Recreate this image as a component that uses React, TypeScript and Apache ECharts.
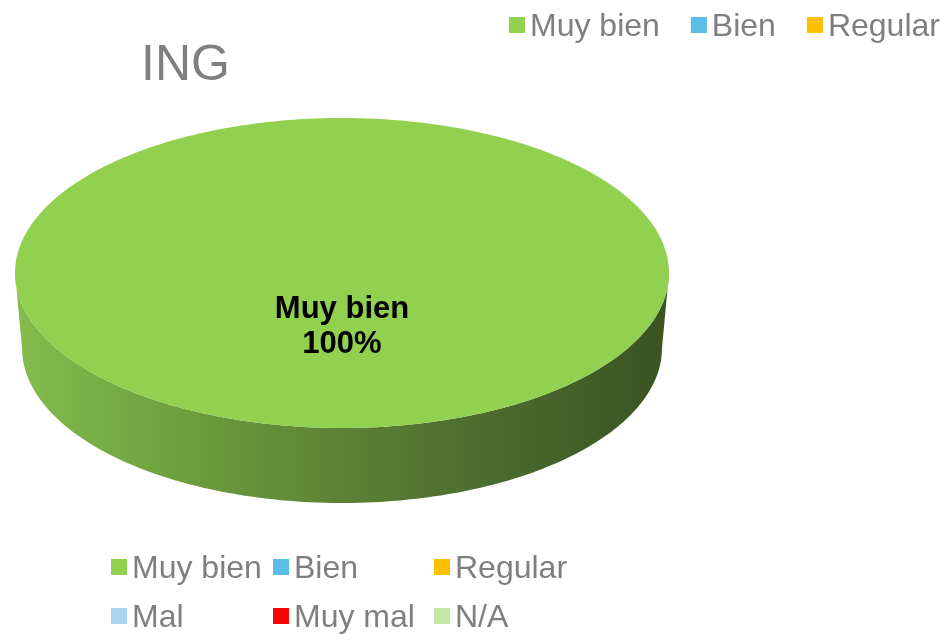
import React, { useEffect, useRef } from 'react';
import * as echarts from 'echarts';

const titleText = 'ING';
const categories = ['Muy bien', 'Bien', 'Regular', 'Mal', 'Muy mal', 'N/A'];
const values = [100, 0, 0, 0, 0, 0];
const colors = ['#92D050', '#5BBDE4', '#FFC000', '#A9D5F0', '#FF0000', '#C3E8A8'];
const topLegendItems = ['Muy bien', 'Bien', 'Regular'];
const bottomLegendRows = [
  ['Muy bien', 'Bien', 'Regular'],
  ['Mal', 'Muy mal', 'N/A'],
];

const FONT = '"Liberation Sans", Arial, sans-serif';
const total = values.reduce((a, b) => a + b, 0);
const cumBefore = values.map((_, i) => values.slice(0, i).reduce((a, b) => a + b, 0));

// layout of the 3D ellipse
const CX = 342;
const CY = 273;
const RX = 327;
const RY = 155;
const DEPTH = 75;
const BRX = 320;
const BRY = 155;

function ellPts(cx: number, cy: number, rx: number, ry: number, a: number, b: number, n: number) {
  const pts: number[][] = [];
  for (let k = 0; k <= n; k++) {
    const t = a + ((b - a) * k) / n;
    pts.push([cx + rx * Math.cos(t), cy + ry * Math.sin(t)]);
  }
  return pts;
}

function makeRender(i: number) {
  return (params: any, api: any) => {
    const v = api.value(0) as number;
    if (!v || !total) return { type: 'group', children: [] };
    const start = -Math.PI / 2 + (2 * Math.PI * cumBefore[i]) / total;
    const sweep = (2 * Math.PI * v) / total;
    const end = start + sweep;
    const children: any[] = [];
    const color = colors[i];

    // side wall: visible front portion [0, PI] (and its 2PI shifts)
    for (const off of [-2 * Math.PI, 0, 2 * Math.PI]) {
      const a = Math.max(start, off);
      const b = Math.min(end, off + Math.PI);
      if (b > a) {
        const top = ellPts(CX, CY, RX, RY, a, b, 120);
        const bot = ellPts(CX, CY + DEPTH, BRX, BRY, a, b, 120).reverse();
        children.push({
          type: 'polygon',
          shape: { points: top.concat(bot) },
          style: {
            fill: new echarts.graphic.LinearGradient(0, 0, 1, 0, [
              { offset: 0, color: '#84BC4C' },
              { offset: 0.25, color: '#6E9F3E' },
              { offset: 0.5, color: '#5B8235' },
              { offset: 0.75, color: '#496A2C' },
              { offset: 1, color: '#3A5322' },
            ]),
            stroke: null,
          },
        });
      }
    }

    // top face
    const full = sweep >= 2 * Math.PI - 1e-6;
    let pts = ellPts(CX, CY, RX, RY, start, end, 240);
    if (!full) pts = [[CX, CY]].concat(pts);
    children.push({
      type: 'polygon',
      shape: { points: pts },
      style: { fill: color, stroke: null },
    });

    // label
    const mid = (start + end) / 2;
    const f = full ? 0.335 : 0.6;
    const pct = Math.round((v / total) * 100) + '%';
    children.push({
      type: 'text',
      x: CX + RX * f * Math.cos(mid),
      y: CY + RY * f * Math.sin(mid),
      style: {
        text: categories[i] + '\n' + pct,
        fill: '#000000',
        fontSize: 31,
        fontWeight: 'bold',
        fontFamily: FONT,
        align: 'center',
        verticalAlign: 'middle',
        lineHeight: 35,
      },
    });
    return { type: 'group', children };
  };
}

export default function App() {
  const ref = useRef<HTMLDivElement>(null);
  useEffect(() => {
    const chart = echarts.init(ref.current!, null, { renderer: 'svg' });
    const legendBase = {
      icon: 'rect',
      itemWidth: 16,
      itemHeight: 16,
      padding: 0,
      selectedMode: false,
      textStyle: { color: '#7F7F7F', fontSize: 32, fontFamily: FONT },
    };
    const colLefts = [111, 273, 434];
    const rowTops = [551, 600];
    const bottomLegends: any[] = [];
    bottomLegendRows.forEach((row, r) =>
      row.forEach((name, c) =>
        bottomLegends.push({
          ...legendBase,
          data: [name],
          orient: 'horizontal',
          left: colLefts[c],
          top: rowTops[r],
        })
      )
    );
    chart.setOption({
      animation: false,
      title: {
        text: titleText,
        left: 141,
        top: 37.5,
        padding: 0,
        textStyle: { color: '#7F7F7F', fontSize: 50, fontWeight: 'normal', fontFamily: FONT },
      },
      legend: [
        { ...legendBase, data: topLegendItems, orient: 'horizontal', left: 509, top: 9, itemGap: 31 },
        ...bottomLegends,
      ],
      series: categories.map((name, i) => ({
        type: 'custom',
        name,
        coordinateSystem: 'none',
        data: [[values[i]]],
        itemStyle: { color: colors[i] },
        renderItem: makeRender(i),
      })),
    });
    return () => chart.dispose();
  }, []);
  return <div ref={ref} style={{ position: 'fixed', left: 0, top: 0, width: 948, height: 634 }} />;
}
